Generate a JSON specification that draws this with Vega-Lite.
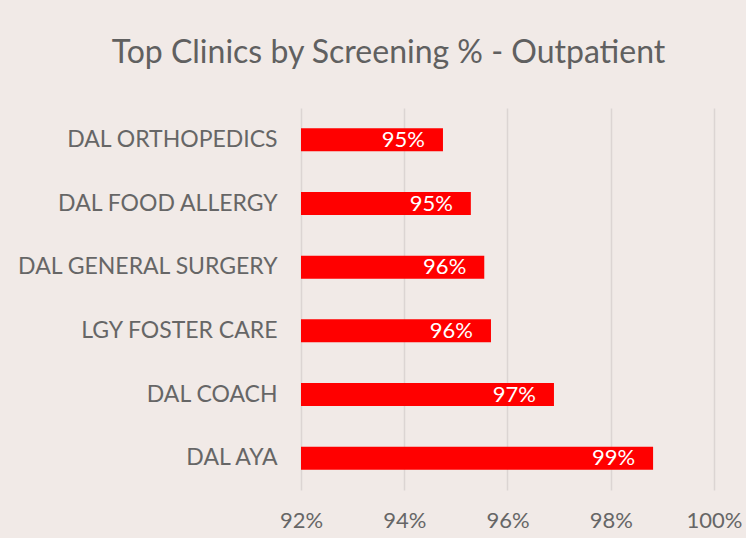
{
  "$schema": "https://vega.github.io/schema/vega-lite/v6.json",
  "autosize": {"type": "none"},
  "width": 413,
  "height": 382,
  "padding": {"left": 301, "top": 108, "right": 32, "bottom": 48},
  "background": "#F1EAE7",
  "title": {
    "text": "Top Clinics by Screening % - Outpatient",
    "anchor": "middle",
    "frame": "group",
    "dx": -119,
    "offset": 38,
    "font": "Lato",
    "fontSize": 32,
    "fontWeight": "normal",
    "color": "#606060"
  },
  "config": {
    "view": {"stroke": null},
    "font": "Lato"
  },
  "data": {
    "values": [
      {"clinic": "DAL ORTHOPEDICS", "pct": 0.9475},
      {"clinic": "DAL FOOD ALLERGY", "pct": 0.9529},
      {"clinic": "DAL GENERAL SURGERY", "pct": 0.9555},
      {"clinic": "LGY FOSTER CARE", "pct": 0.9568},
      {"clinic": "DAL COACH", "pct": 0.969},
      {"clinic": "DAL AYA", "pct": 0.9882}
    ]
  },
  "encoding": {
    "y": {
      "field": "clinic",
      "type": "nominal",
      "sort": "x",
      "scale": {"paddingInner": 0.64, "paddingOuter": 0.32},
      "axis": {
        "title": null,
        "domain": false,
        "ticks": false,
        "labelPadding": 24,
        "labelLimit": 400,
        "labelFontSize": 23,
        "labelColor": "#666666",
        "labelFont": "Lato"
      }
    },
    "x": {
      "field": "pct",
      "type": "quantitative",
      "scale": {"domain": [0.92, 1.0], "zero": false, "nice": false},
      "axis": {
        "title": null,
        "domain": false,
        "ticks": false,
        "values": [0.92, 0.94, 0.96, 0.98, 1.0],
        "format": ".0%",
        "labelFlush": false,
        "labelOverlap": false,
        "labelPadding": 20,
        "labelFontSize": 22,
        "labelColor": "#666666",
        "labelFont": "Lato",
        "grid": true,
        "gridColor": "#DCD5D3",
        "gridWidth": 1.5
      }
    }
  },
  "layer": [
    {"mark": {"type": "bar", "color": "#FF0000", "clip": true}},
    {
      "mark": {"type": "text", "align": "right", "baseline": "middle", "dx": -18, "color": "#FFFFFF", "fontSize": 22, "font": "Lato"},
      "encoding": {"text": {"field": "pct", "type": "quantitative", "format": ".0%"}}
    }
  ]
}
